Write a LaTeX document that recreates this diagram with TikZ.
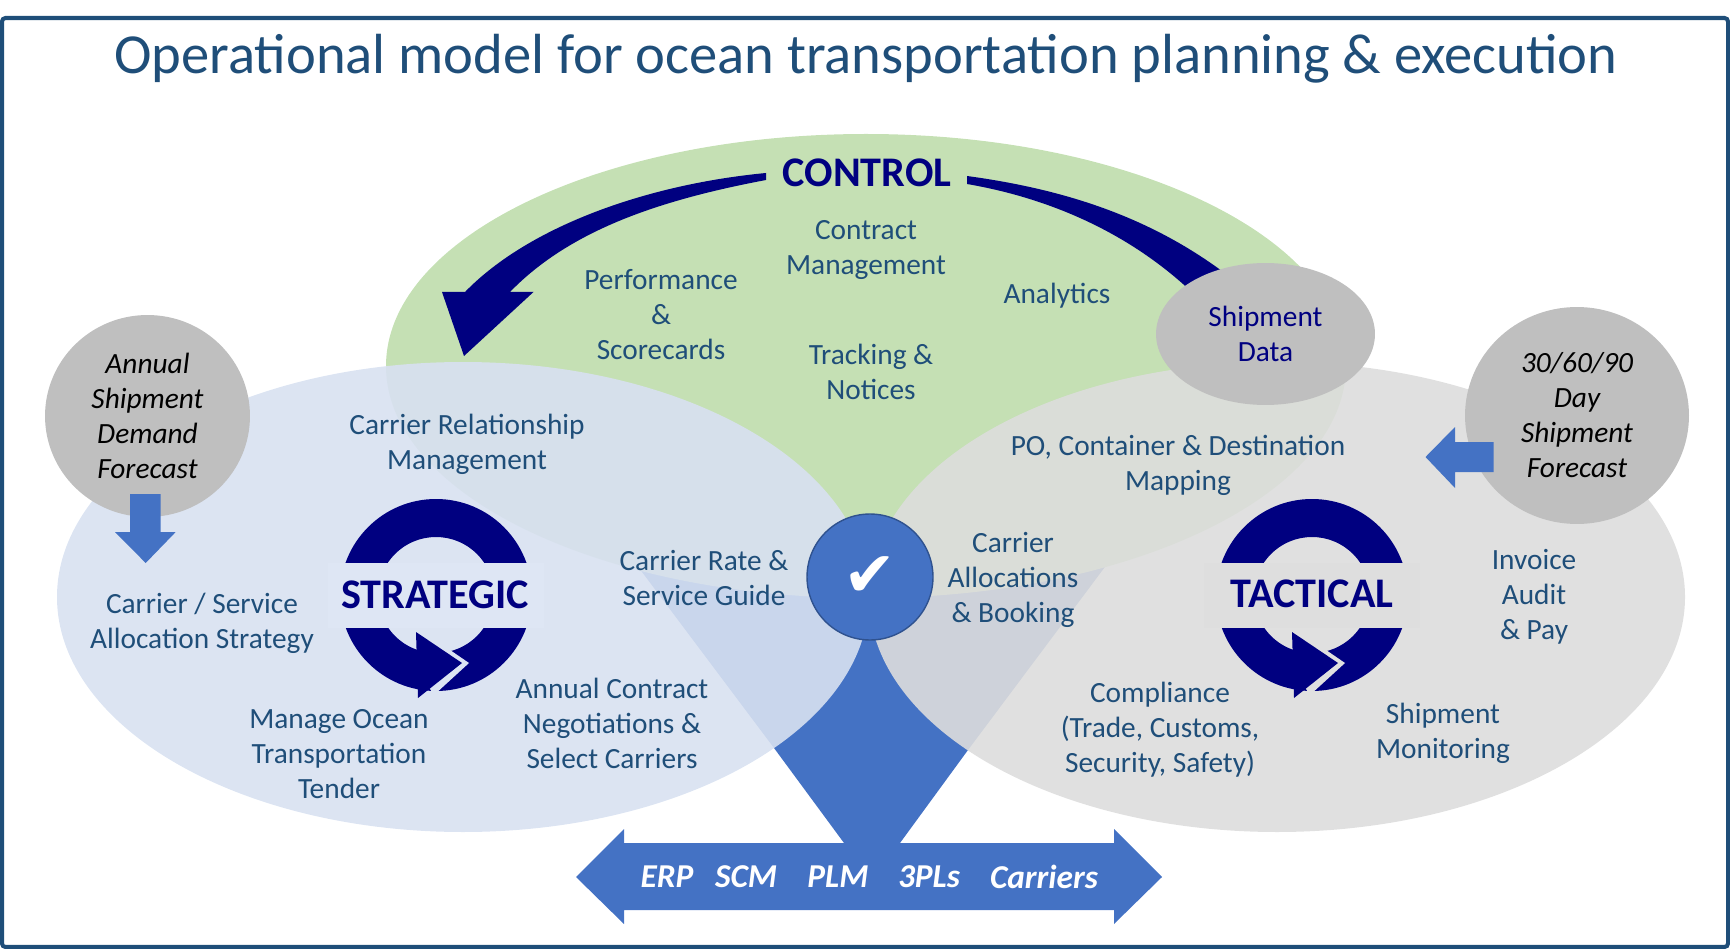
\documentclass[tikz,border=0pt]{standalone}
\usepackage{fontspec}
\setmainfont{Carlito}
\newfontfamily\symbolfont{DejaVu Sans}
\usetikzlibrary{positioning, shapes.geometric}
\definecolor{navyblue}{HTML}{000080}
\definecolor{framenavy}{HTML}{1F4E79}
\definecolor{solidblue}{HTML}{4472C4}
\definecolor{darkblue}{HTML}{2F528F}
\definecolor{ovalgreen}{HTML}{C5E0B4}
\definecolor{ovalblue}{RGB}{216,225,241}
\definecolor{ovalgrey}{RGB}{221,221,221}
\definecolor{flatblue}{RGB}{220,228,243}
\definecolor{flatgrey}{RGB}{224,224,224}
\definecolor{bandblue}{RGB}{222,230,244}
\definecolor{bandgrey}{RGB}{222,222,222}
\definecolor{bubblegrey}{HTML}{BFBFBF}

\begin{document}
\begin{tikzpicture}[
    x=0.02cm, y=-0.02cm,
    bodytext/.style={
        font=\fontsize{16.7}{19.9}\selectfont, text=framenavy,
        align=center, inner sep=0pt
    },
    forecasttext/.style={
        font=\fontsize{16.7}{19.9}\selectfont\itshape, text=black,
        align=center, inner sep=0pt
    },
    phasetext/.style={
        font=\fontsize{24}{28}\selectfont\bfseries, text=navyblue,
        inner sep=0pt
    },
    systemtext/.style={
        font=\fontsize{19}{22}\selectfont\bfseries\itshape, text=white,
        inner sep=0pt
    },
    bigoval/.style={fill opacity=0.9},
    bubble/.style={fill=bubblegrey, ellipse, inner sep=0pt},
    flatarrow/.style={fill=solidblue},
    pics/cyclering/.style 2 args={
        code={
            \fill[navyblue, even odd rule] (0,0) circle[radius=96] (0,0) circle[radius=58];
            \fill[#1] (-108,-32) rectangle (108,33);
            \fill[#2] (14,55) -- (33,68) -- (-2,100) -- (-12,85) -- (0,60) -- cycle;
            \fill[navyblue] (-20,37) -- (26,68) -- (-18,103) -- cycle;
        }
    },
]
\useasboundingbox (0,0) rectangle (1730,949);

% === Frame ===
\draw[framenavy, line width=2.3pt, rounded corners=2pt] (2,18) rectangle (1728,947);

% === Title ===
\node[font=\fontsize{32.2}{38}\selectfont, text=framenavy, inner sep=0pt] (title) at (866,59)
    {Operational model for ocean transportation planning \& execution};

% === Funnel and systems arrow ===
\fill[solidblue] (588,500) -- (1155,500) -- (968,750) -- (900,843) -- (1114,843)
    -- (1114,829) -- (1162,877) -- (1114,924) -- (1114,910) -- (624,910) -- (624,924)
    -- (576,877) -- (624,829) -- (624,843) -- (844,843) -- (774,748) -- cycle;

% === Ovals ===
\fill[ovalgreen] (866,366) ellipse[x radius=480, y radius=232];
\fill[ovalblue, bigoval] (463,597) ellipse[x radius=406, y radius=235];
\fill[ovalgrey, bigoval] (1277,597) ellipse[x radius=408, y radius=235];

% === Control arrows ===
\fill[navyblue] (766,173) .. controls (650,184) and (530,225) .. (465,292)
    -- (442,292) -- (464,356) -- (533.5,292) -- (510,292)
    .. controls (570,230) and (660,200) .. (766,180) -- cycle;
\fill[navyblue] (967,176) .. controls (1070,190) and (1160,220) .. (1240,285)
    -- (1200,300) .. controls (1140,240) and (1060,200) .. (967,184) -- cycle;
\node[phasetext] (control) at (867,173) {CONTROL};

% === Bubbles ===
\node[bubble, minimum width=4.38cm, minimum height=2.84cm, text=navyblue, align=center,
      font=\fontsize{16.7}{19.9}\selectfont] (shipdata) at (1265.5,334) {Shipment\\Data};
\node[bubble, minimum width=4.48cm, minimum height=4.34cm] (tacticalbubble) at (1577,415.5) {};
\node[bubble, minimum width=4.10cm, minimum height=4.04cm] (annualbubble) at (147.5,416) {};
\node[forecasttext] (tacticalfc) at (tacticalbubble.center) {30/60/90\\Day\\Shipment\\Forecast};
\node[forecasttext] (annualfc) at (annualbubble.center) {Annual\\Shipment\\Demand\\Forecast};

% === Forecast arrows ===
\fill[flatarrow] (130,494) -- (160.7,494) -- (160.7,532) -- (175.7,532) -- (145.7,563)
    -- (115,532) -- (130,532) -- cycle;
\fill[flatarrow] (1493.5,442) -- (1455,442) -- (1455,427) -- (1425.5,457) -- (1455,488)
    -- (1455,472) -- (1493.5,472) -- cycle;

% === Cycle rings ===
\pic at (436,595) {cyclering={bandblue}{flatblue}};
\pic at (1312,595) {cyclering={bandgrey}{flatgrey}};
\node[phasetext] (strategic) at (435,595) {STRATEGIC};
\node[phasetext] (tactical) at (1312,594) {TACTICAL};

% === Centre check ===
\node[circle, fill=solidblue, draw=darkblue, line width=0.8pt, minimum size=2.52cm, inner sep=0pt,
      text=white, font=\symbolfont\fontsize{36}{40}\selectfont] (check) at (870,577) {\char"2714};

% === Control items ===
\node[bodytext] (contract) at (866,250) {Contract\\Management};
\node[bodytext] (performance) at (661,315) {Performance\\\&\\Scorecards};
\node[bodytext] (analytics) at (1057,296) {Analytics};
\node[bodytext] (tracking) at (871,372) {Tracking \&\\Notices};

% === Strategic items ===
\node[bodytext] (relationship) at (467,444) {Carrier Relationship\\Management};
\node[bodytext] (rateguide) at (704,578) {Carrier Rate \&\\Service Guide};
\node[bodytext] (allocstrategy) at (202,623) {Carrier / Service\\Allocation Strategy};
\node[bodytext] (tender) at (339,754) {Manage Ocean\\Transportation\\Tender};
\node[bodytext] (negotiations) at (612,723) {Annual Contract\\Negotiations \&\\Select Carriers};

% === Tactical items ===
\node[bodytext] (mapping) at (1178,465) {PO, Container \& Destination\\Mapping};
\node[bodytext] (booking) at (1013,580) {Carrier\\Allocations\\\& Booking};
\node[bodytext] (compliance) at (1160,730) {Compliance\\(Trade, Customs,\\Security, Safety)};
\node[bodytext] (monitoring) at (1443,733) {Shipment\\Monitoring};
\node[bodytext] (invoice) at (1534,597) {Invoice\\Audit\\\& Pay};

% === Systems labels ===
\foreach \name/\x/\label in {erp/667/ERP, scm/746/SCM, plm/838/PLM, tpl/929/3PLs, carriers/1044/Carriers} {
    \node[systemtext] (\name) at (\x,877) {\label};
}
\end{tikzpicture}
\end{document}
